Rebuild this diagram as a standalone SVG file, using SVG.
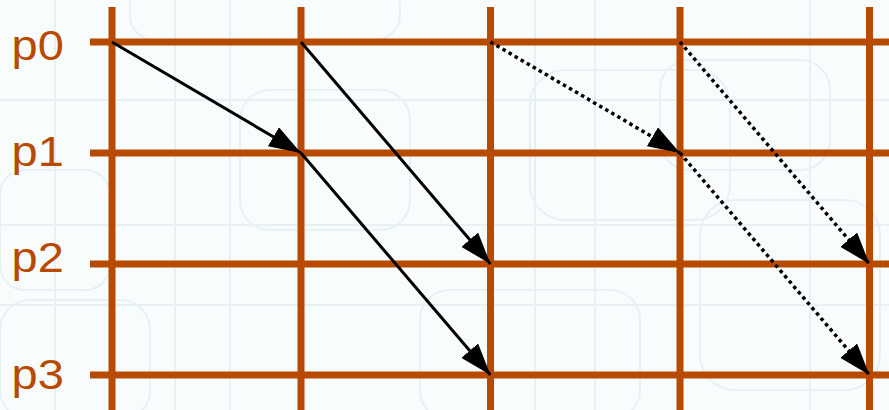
<svg xmlns="http://www.w3.org/2000/svg" width="889" height="410" viewBox="0 0 889 410">
  <style>
    .bg { fill: none; stroke: #e7f1f4; stroke-width: 2; }
    .grid { stroke: #b84a00; stroke-width: 7; fill: none; }
    .lbl { font-family: "Liberation Sans", Arial, sans-serif; font-size: 42px; fill: #b84a00; }
    .msg { stroke: #000; stroke-width: 3; fill: none; }
    .dot { stroke: #000; stroke-width: 3.5; fill: none; stroke-dasharray: 3.5 3.5; }
  </style>
  <defs>
    <marker id="ah" markerWidth="32" markerHeight="22" refX="32" refY="11" orient="auto" markerUnits="userSpaceOnUse">
      <path d="M0,0 L32,11 L0,22 Z" fill="#000"/>
    </marker>
  </defs>
  <rect x="0" y="0" width="889" height="410" fill="#f9fcfd"/>
  <g id="background">
    <rect class="bg" x="130" y="-20" width="270" height="60" rx="25"/>
    <rect class="bg" x="0" y="170" width="110" height="120" rx="25"/>
    <rect class="bg" x="240" y="90" width="170" height="140" rx="30"/>
    <rect class="bg" x="530" y="70" width="200" height="150" rx="35"/>
    <rect class="bg" x="660" y="60" width="170" height="110" rx="30"/>
    <rect class="bg" x="0" y="300" width="150" height="120" rx="30"/>
    <rect class="bg" x="700" y="200" width="180" height="190" rx="35"/>
    <rect class="bg" x="420" y="290" width="220" height="130" rx="30"/>
    <line class="bg" x1="0" y1="100" x2="889" y2="100"/>
    <line class="bg" x1="0" y1="225" x2="889" y2="225"/>
    <line class="bg" x1="0" y1="305" x2="889" y2="305"/>
    <line class="bg" x1="55" y1="0" x2="55" y2="410"/>
    <line class="bg" x1="175" y1="0" x2="175" y2="410"/>
    <line class="bg" x1="230" y1="0" x2="230" y2="410"/>
    <line class="bg" x1="535" y1="0" x2="535" y2="410"/>
    <line class="bg" x1="595" y1="0" x2="595" y2="410"/>
    <line class="bg" x1="810" y1="0" x2="810" y2="410"/>
  </g>
  <g id="grid">
    <line class="grid" x1="112" y1="7" x2="112" y2="410"/>
    <line class="grid" x1="301" y1="7" x2="301" y2="410"/>
    <line class="grid" x1="490.5" y1="7" x2="490.5" y2="410"/>
    <line class="grid" x1="680" y1="7" x2="680" y2="410"/>
    <line class="grid" x1="869.5" y1="7" x2="869.5" y2="410"/>
    <line class="grid" x1="90" y1="42" x2="889" y2="42"/>
    <line class="grid" x1="90" y1="153" x2="889" y2="153"/>
    <line class="grid" x1="90" y1="264" x2="889" y2="264"/>
    <line class="grid" x1="90" y1="375" x2="889" y2="375"/>
  </g>
  <g id="labels">
    <text class="lbl" transform="translate(11.5,60) scale(1.12,1)">p0</text>
    <text class="lbl" transform="translate(11.5,166) scale(1.12,1)">p1</text>
    <text class="lbl" transform="translate(11.5,272) scale(1.12,1)">p2</text>
    <text class="lbl" transform="translate(11.5,388.5) scale(1.12,1)">p3</text>
  </g>
  <g id="connectors">
    <line class="msg" x1="112" y1="42" x2="301" y2="153" marker-end="url(#ah)"/>
    <line class="msg" x1="301" y1="42" x2="490.5" y2="264" marker-end="url(#ah)"/>
    <line class="msg" x1="301" y1="153" x2="490.5" y2="375" marker-end="url(#ah)"/>
    <line class="dot" x1="490.5" y1="42" x2="680" y2="153" marker-end="url(#ah)"/>
    <line class="dot" x1="680" y1="42" x2="869.5" y2="264" marker-end="url(#ah)"/>
    <line class="dot" x1="680" y1="153" x2="869.5" y2="375" marker-end="url(#ah)"/>
  </g>
</svg>
